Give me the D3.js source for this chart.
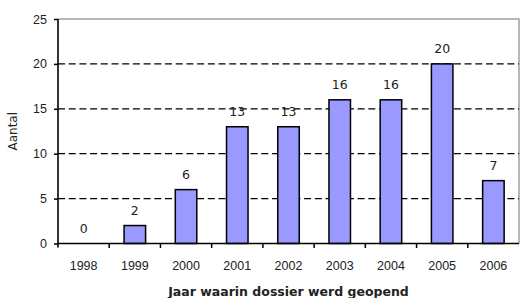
<!DOCTYPE html>
<html>
<head>
<meta charset="utf-8">
<script src="https://cdn.jsdelivr.net/npm/d3@7"></script>
<style>
    body { margin: 0; background: #fff; }
    svg { display: block; font-family: "DejaVu Sans", Verdana, sans-serif; }
    .tick text { fill: #222; }
</style>
</head>
<body>
<svg width="520" height="298"></svg>
<script>
'use strict';

var years = ['1998', '1999', '2000', '2001', '2002', '2003', '2004', '2005', '2006'];
var counts = [0, 2, 6, 13, 13, 16, 16, 20, 7];
var yTicks = [0, 5, 10, 15, 20, 25];

var xTitle = 'Jaar waarin dossier werd geopend';
var yTitle = 'Aantal';

var svg = d3.select('svg');

var margin = {
    top: 19,
    right: 1,
    bottom: 54.5,
    left: 58
};

var width = +svg.attr('width');
var height = +svg.attr('height');

var x = d3.scaleBand()
    .domain(years)
    .range([margin.left, width - margin.right])
    .paddingInner(0.58)
    .paddingOuter(0.29);

var y = d3.scaleLinear()
    .domain([0, 25])
    .range([height - margin.bottom, margin.top]);

// plot border, top and right, grey
svg.append('path')
    .attr('d', 'M' + margin.left + ',' + y(25) + 'H' + (width - margin.right) + 'V' + y(0))
    .attr('fill', 'none')
    .attr('stroke', '#a0a0a0')
    .attr('stroke-width', 1.5);

// dashed grid
svg.append('g')
    .selectAll('line')
    .data(yTicks.filter(function(d) { return d > 0 && d < 25; }))
    .enter().append('line')
    .attr('x1', margin.left)
    .attr('x2', width - margin.right)
    .attr('y1', function(d) { return y(d); })
    .attr('y2', function(d) { return y(d); })
    .attr('stroke', '#000')
    .attr('stroke-width', 1.3)
    .attr('stroke-dasharray', '7,3.7');

// bars
svg.append('g')
    .selectAll('rect')
    .data(counts)
    .enter().append('rect')
    .attr('x', function(d, i) { return x(years[i]); })
    .attr('y', function(d) { return y(d); })
    .attr('width', x.bandwidth())
    .attr('height', function(d) { return y(0) - y(d); })
    .attr('fill', '#9999ff')
    .attr('stroke', '#000')
    .attr('stroke-width', 1.5)
    .style('display', function(d) { return d === 0 ? 'none' : null; });

// value labels
svg.append('g')
    .selectAll('text')
    .data(counts)
    .enter().append('text')
    .attr('x', function(d, i) { return x(years[i]) + x.bandwidth() / 2; })
    .attr('y', function(d) { return y(d) - 11; })
    .attr('text-anchor', 'middle')
    .attr('font-size', 12.5)
    .attr('fill', '#222')
    .text(function(d) { return d; });

// y axis
var yAxis = svg.append('g')
    .attr('transform', 'translate(' + margin.left + ',0)')
    .call(d3.axisLeft(y).tickValues(yTicks).tickSize(4).tickPadding(7));

yAxis.select('.domain')
    .attr('d', 'M0,' + y(25) + 'V' + (y(0) + 4))
    .attr('stroke-width', 1.6);
yAxis.selectAll('.tick line').attr('stroke-width', 1.5);
yAxis.selectAll('.tick text').attr('font-size', 12.5).attr('font-family', null);

// x axis, labels only, ticks between categories
var xAxis = svg.append('g')
    .attr('transform', 'translate(0,' + y(0) + ')')
    .call(d3.axisBottom(x).tickSize(0).tickPadding(18));

xAxis.select('.domain')
    .attr('d', 'M' + margin.left + ',0H' + (width - margin.right))
    .attr('stroke-width', 1.6);
xAxis.selectAll('.tick text').attr('font-size', 12.5).attr('font-family', null);

xAxis.append('g')
    .selectAll('line')
    .data(years.slice(0, -1))
    .enter().append('line')
    .attr('x1', function(d) { return x(d) + x.bandwidth() / 2 + x.step() / 2; })
    .attr('x2', function(d) { return x(d) + x.bandwidth() / 2 + x.step() / 2; })
    .attr('y1', 0)
    .attr('y2', 4.5)
    .attr('stroke', '#000')
    .attr('stroke-width', 1.5);

// axis titles
svg.append('text')
    .attr('x', (margin.left + width - margin.right) / 2)
    .attr('y', 295.5)
    .attr('text-anchor', 'middle')
    .attr('font-size', 12.5)
    .attr('font-weight', 'bold')
    .attr('fill', '#222')
    .text(xTitle);

svg.append('text')
    .attr('transform', 'translate(17,' + ((y(0) + y(25)) / 2) + ') rotate(-90)')
    .attr('text-anchor', 'middle')
    .attr('font-size', 12)
    .attr('fill', '#222')
    .text(yTitle);
</script>
</body>
</html>
